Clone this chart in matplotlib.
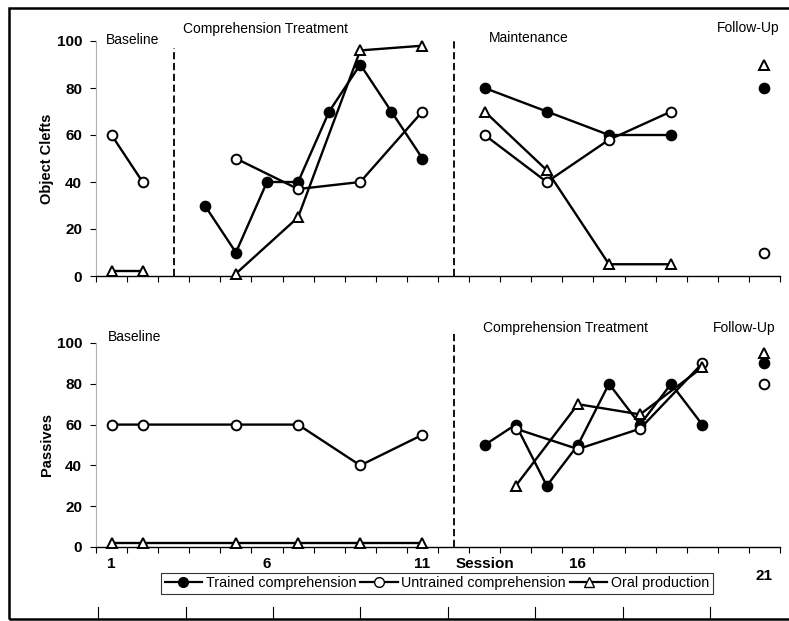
import matplotlib
matplotlib.use("Agg")
import matplotlib.pyplot as plt
from matplotlib.lines import Line2D
from matplotlib.patches import Rectangle
import numpy as np

plt.rcParams["font.family"] = ["Liberation Sans", "DejaVu Sans"]

# Object clefts (top panel)
oc_base_x = [1, 2]
oc_base_untrained = [60, 40]
oc_base_oral = [2, 2]
oc_treat_trained_x = [4, 5, 6, 7, 8, 9, 10, 11]
oc_treat_trained = [30, 10, 40, 40, 70, 90, 70, 50]
oc_treat_x = [5, 7, 9, 11]
oc_treat_untrained = [50, 37, 40, 70]
oc_treat_oral = [1, 25, 96, 98]
oc_maint_x = [13, 15, 17, 19]
oc_maint_trained = [80, 70, 60, 60]
oc_maint_untrained = [60, 40, 58, 70]
oc_maint_oral = [70, 45, 5, 5]
oc_follow = {"trained": 80, "untrained": 10, "oral": 90}

# Passives (bottom panel)
pa_base_x = [1, 2, 5, 7, 9, 11]
pa_base_untrained = [60, 60, 60, 60, 40, 55]
pa_base_oral = [2, 2, 2, 2, 2, 2]
pa_treat_trained_x = [13, 14, 15, 16, 17, 18, 19, 20]
pa_treat_trained = [50, 60, 30, 50, 80, 60, 80, 60]
pa_treat_x = [14, 16, 18, 20]
pa_treat_untrained = [58, 48, 58, 90]
pa_treat_oral = [30, 70, 65, 88]
pa_follow = {"trained": 90, "untrained": 80, "oral": 95}

follow_session = 22
tick_pos = [1, 6, 11, 13, 16]
tick_labels = ["1", "6", "11", "Session", "16"]
y_ticks = [0, 20, 40, 60, 80, 100]

styles = {
    "trained": dict(marker="o", mfc="black", zorder=3),
    "untrained": dict(marker="o", mfc="white", zorder=4),
    "oral": dict(marker="^", mfc="white", zorder=5),
}


def draw(ax, x, y, kind):
    st = styles[kind]
    ax.plot(x, y, color="black", lw=1.7, marker=st["marker"], ms=7,
            mfc=st["mfc"], mec="black", mew=1.4, zorder=st["zorder"],
            clip_on=False)


def style_axis(ax, ylabel):
    ax.set_xlim(0.5, 22.5)
    ax.set_ylim(0, 100)
    for s in ["top", "right"]:
        ax.spines[s].set_visible(False)
    ax.spines["left"].set_color("#b0b0b0")
    ax.spines["left"].set_linewidth(0.8)
    ax.spines["bottom"].set_linewidth(1.0)
    ax.set_xticks(np.arange(0.5, 23, 1), minor=True)
    ax.tick_params(axis="x", which="minor", length=4, width=0.8)
    ax.tick_params(axis="x", which="major", length=0, pad=7)
    ax.set_yticks(y_ticks)
    ax.tick_params(axis="y", length=4, width=0.8, pad=6)
    for lab in ax.get_yticklabels():
        lab.set_fontsize(11)
        lab.set_fontweight("bold")
    ax.set_ylabel(ylabel, fontsize=10.5, fontweight="bold", labelpad=2)


fig = plt.figure(figsize=(7.89, 6.21), dpi=100)
W, H = 789, 621
ax1 = fig.add_axes([96 / W, 1 - 276 / H, 684 / W, 235 / H])
ax2 = fig.add_axes([96 / W, 1 - 547 / H, 684 / W, 204 / H])

# top panel
draw(ax1, oc_base_x, oc_base_untrained, "untrained")
draw(ax1, oc_base_x, oc_base_oral, "oral")
draw(ax1, oc_treat_trained_x, oc_treat_trained, "trained")
draw(ax1, oc_treat_x, oc_treat_untrained, "untrained")
draw(ax1, oc_treat_x, oc_treat_oral, "oral")
draw(ax1, oc_maint_x, oc_maint_trained, "trained")
draw(ax1, oc_maint_x, oc_maint_untrained, "untrained")
draw(ax1, oc_maint_x, oc_maint_oral, "oral")
for k, v in oc_follow.items():
    draw(ax1, [follow_session], [v], k)
style_axis(ax1, "Object Clefts")
ax1.set_xticks(tick_pos)
ax1.set_xticklabels([])
ax1.axvline(3, ymin=0, ymax=0.97, color="black", lw=1.3, ls=(0, (4, 2)))
ax1.axvline(12, ymin=0, ymax=1.0, color="black", lw=1.3, ls=(0, (4, 2)),
            clip_on=False)

# bottom panel
draw(ax2, pa_base_x, pa_base_untrained, "untrained")
draw(ax2, pa_base_x, pa_base_oral, "oral")
draw(ax2, pa_treat_trained_x, pa_treat_trained, "trained")
draw(ax2, pa_treat_x, pa_treat_untrained, "untrained")
draw(ax2, pa_treat_x, pa_treat_oral, "oral")
for k, v in pa_follow.items():
    draw(ax2, [follow_session], [v], k)
style_axis(ax2, "Passives")
ax2.set_xticks(tick_pos)
ax2.set_xticklabels(tick_labels, fontsize=11, fontweight="bold")
ax2.text(follow_session, -14, "21", ha="center", va="center",
         fontsize=11, fontweight="bold")
ax2.axvline(12, ymin=0, ymax=1.06, color="black", lw=1.3, ls=(0, (4, 2)),
            clip_on=False)

# phase labels (figure pixel positions)
def label(x, y, s):
    fig.text(x / W, 1 - y / H, s, fontsize=10, ha="left", va="center")


label(106, 40, "Baseline")
label(183, 29, "Comprehension Treatment")
label(489, 38, "Maintenance")
label(717, 28, "Follow-Up")
label(108, 337, "Baseline")
label(483, 328, "Comprehension Treatment")
label(713, 328, "Follow-Up")

# legend
handles = [
    Line2D([], [], color="black", lw=1.6, marker="o", ms=7, mfc="black", mec="black"),
    Line2D([], [], color="black", lw=1.6, marker="o", ms=7, mfc="white", mec="black"),
    Line2D([], [], color="black", lw=1.6, marker="^", ms=7, mfc="white", mec="black"),
]
leg = fig.legend(handles, ["Trained comprehension", "Untrained comprehension",
                           "Oral production"],
                 loc="center", bbox_to_anchor=(437 / W, 1 - 583.5 / H),
                 ncol=3, fontsize=10.3, frameon=True, fancybox=False,
                 edgecolor="black", handlelength=2.6, handletextpad=0.25,
                 columnspacing=0.3, borderpad=0.25, borderaxespad=0)
leg.get_frame().set_linewidth(0.8)

# outer frame and scan marks
fig.add_artist(Rectangle((9 / W, 1 - 619 / H), 1.0, 611 / H, fill=False,
                         lw=1.8, ec="black", transform=fig.transFigure))
for x in [98, 186, 273, 360, 448, 535, 623, 710]:
    fig.add_artist(Line2D([x / W, x / W], [1 - 607 / H, 1 - 619 / H],
                          color="black", lw=0.8, transform=fig.transFigure))

fig.savefig("out.png", dpi=100)
